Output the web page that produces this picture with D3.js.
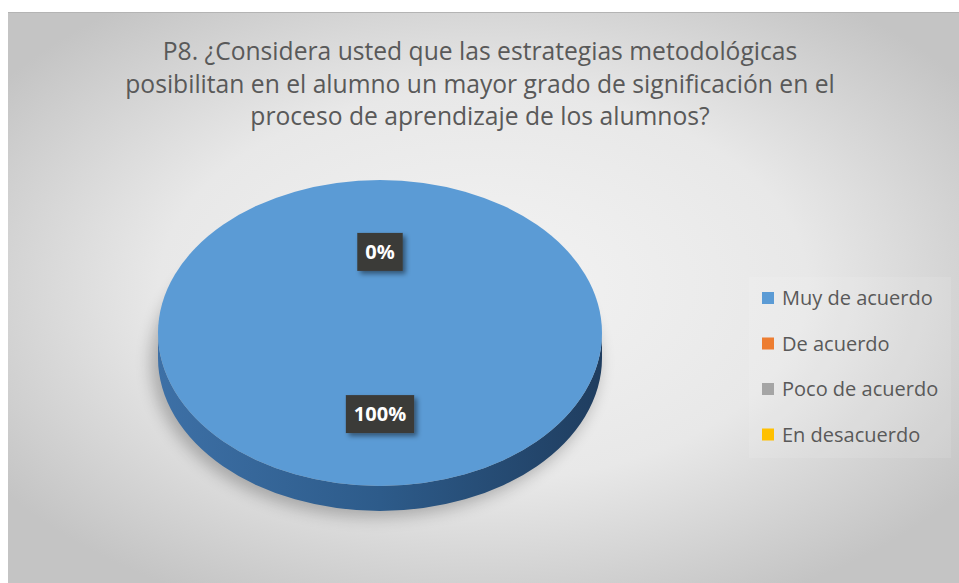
<!DOCTYPE html>
<html>
<head>
<meta charset="utf-8">
<script src="https://cdn.jsdelivr.net/npm/d3@7"></script>
<style>
  html, body { margin: 0; padding: 0; background: #fff; }
  svg { display: block; }
</style>
</head>
<body>
<script>
// chart data
var titleLines = ["P8. ¿Considera usted que las estrategias metodológicas",
                  "posibilitan en el alumno un mayor grado de significación en el",
                  "proceso de aprendizaje de los alumnos?"];
var categories = ["Muy de acuerdo", "De acuerdo", "Poco de acuerdo", "En desacuerdo"];
var values = [100, 0, null, null];   // null = no value, no label
var colors = ["#5B9BD5", "#ED7D31", "#A5A5A5", "#FFC000"];

var width = 959, height = 583;
var font = "'Open Sans', 'DejaVu Sans', sans-serif";

var svg = d3.select("body").append("svg")
    .attr("width", width)
    .attr("height", height);

var defs = svg.append("defs");

// background gradient of the chart area
var bg = defs.append("radialGradient")
    .attr("id", "bg")
    .attr("cx", "50%").attr("cy", "48%").attr("r", "62%");
bg.append("stop").attr("offset", "0%").attr("stop-color", "#f3f3f3");
bg.append("stop").attr("offset", "55%").attr("stop-color", "#e8e8e8");
bg.append("stop").attr("offset", "100%").attr("stop-color", "#c4c4c4");

var side = defs.append("linearGradient")
    .attr("id", "side").attr("x1", "0%").attr("x2", "100%");
side.append("stop").attr("offset", "0%").attr("stop-color", "#3d70a6");
side.append("stop").attr("offset", "50%").attr("stop-color", "#2d5b8a");
side.append("stop").attr("offset", "100%").attr("stop-color", "#1f3d5f");

defs.append("filter").attr("id", "blur")
    .attr("x", "-30%").attr("y", "-30%").attr("width", "160%").attr("height", "160%")
  .append("feGaussianBlur").attr("stdDeviation", 8);

var ds = defs.append("filter").attr("id", "lblshadow")
    .attr("x", "-30%").attr("y", "-30%").attr("width", "160%").attr("height", "160%");
ds.append("feDropShadow").attr("dx", 3).attr("dy", 3).attr("stdDeviation", 2.5)
    .attr("flood-color", "#000").attr("flood-opacity", 0.45);

// panel
svg.append("rect")
    .attr("x", 8).attr("y", 12)
    .attr("width", width - 8).attr("height", height - 12)
    .attr("fill", "url(#bg)");
svg.append("line")
    .attr("x1", 8).attr("x2", width).attr("y1", 12.5).attr("y2", 12.5)
    .attr("stroke", "#b4b4b4").attr("stroke-width", 1);

// title, fitted so the middle line is as wide as in the original
var title = svg.append("text")
    .attr("text-anchor", "middle")
    .attr("fill", "#595959")
    .style("font-family", font)
    .style("font-size", "24px");
title.selectAll("tspan")
    .data(titleLines)
  .enter().append("tspan")
    .attr("x", 480)
    .attr("y", function(d, i) { return 60 + i * 32.5; })
    .text(function(d) { return d; });
var w2 = title.selectAll("tspan").nodes()[1].getComputedTextLength();
title.style("font-size", (24 * 710 / w2) + "px");

// 3d pie
var cx = 380, cy = 333, rx = 222, ry = 153, depth = 25, labelR = 0.53;

var pie = d3.pie().sort(null).value(function(d) { return d.value || 0; })
    .startAngle(0).endAngle(2 * Math.PI);
var slices = pie(categories.map(function(c, i) {
    return { name: c, value: values[i], color: colors[i] };
}));

// soft shadow under the pie
svg.append("ellipse")
    .attr("cx", cx - 5).attr("cy", cy + depth + 4)
    .attr("rx", rx + 2).attr("ry", ry + 2)
    .attr("fill", "#000").attr("opacity", 0.25)
    .attr("filter", "url(#blur)");

// side wall (front half)
svg.append("path")
    .attr("d", "M" + (cx - rx) + "," + cy +
               " A" + rx + "," + ry + " 0 0 0 " + (cx + rx) + "," + cy +
               " L" + (cx + rx) + "," + (cy + depth) +
               " A" + rx + "," + ry + " 0 0 1 " + (cx - rx) + "," + (cy + depth) + " Z")
    .attr("fill", "url(#side)");

// top face: one wedge per slice, flattened arc
var arc = d3.arc().innerRadius(0).outerRadius(rx);
var pieTop = svg.append("g")
    .attr("transform", "translate(" + cx + "," + cy + ") scale(1," + (ry / rx) + ")");
pieTop.selectAll("path")
    .data(slices.filter(function(d) { return d.value > 0; }))
  .enter().append("path")
    .attr("d", arc)
    .attr("fill", function(d) { return d.data.color; });

// data labels
var labels = svg.append("g").selectAll("g")
    .data(slices.filter(function(d) { return d.data.value !== null; }))
  .enter().append("g")
    .attr("transform", function(d) {
        var a = (d.startAngle + d.endAngle) / 2;
        if (d.data.value === 0) a = d.startAngle + 2 * Math.PI;
        return "translate(" + (cx + rx * labelR * Math.sin(a)) + "," + (cy - ry * labelR * Math.cos(a)) + ")";
    });

labels.append("text")
    .attr("class", "lbl")
    .attr("text-anchor", "middle")
    .attr("dy", "0.36em")
    .attr("fill", "#fff")
    .style("font-family", font)
    .style("font-weight", "bold")
    .style("font-size", "20px")
    .text(function(d) { return d3.format(".0%")(d.data.value / 100); });

labels.each(function() {
    var g = d3.select(this);
    var bb = g.select("text").node().getBBox();
    g.insert("rect", "text")
        .attr("x", bb.x - 8).attr("y", -19)
        .attr("width", bb.width + 16).attr("height", 38)
        .attr("fill", "#3b3a39")
        .attr("filter", "url(#lblshadow)");
});

// legend
var legend = svg.append("g");
legend.append("rect")
    .attr("x", 749).attr("y", 277).attr("width", 202).attr("height", 181)
    .attr("fill", "#fff").attr("opacity", 0.1);

var item = legend.selectAll("g.item")
    .data(categories)
  .enter().append("g")
    .attr("class", "item")
    .attr("transform", function(d, i) { return "translate(762," + (298 + i * 45.5) + ")"; });

item.append("rect")
    .attr("x", 0).attr("y", -6).attr("width", 12).attr("height", 12)
    .attr("fill", function(d, i) { return colors[i]; });

item.append("text")
    .attr("x", 20)
    .attr("dy", "0.36em")
    .attr("fill", "#595959")
    .style("font-family", font)
    .style("font-size", "20px")
    .text(function(d) { return d; });
</script>
</body>
</html>
